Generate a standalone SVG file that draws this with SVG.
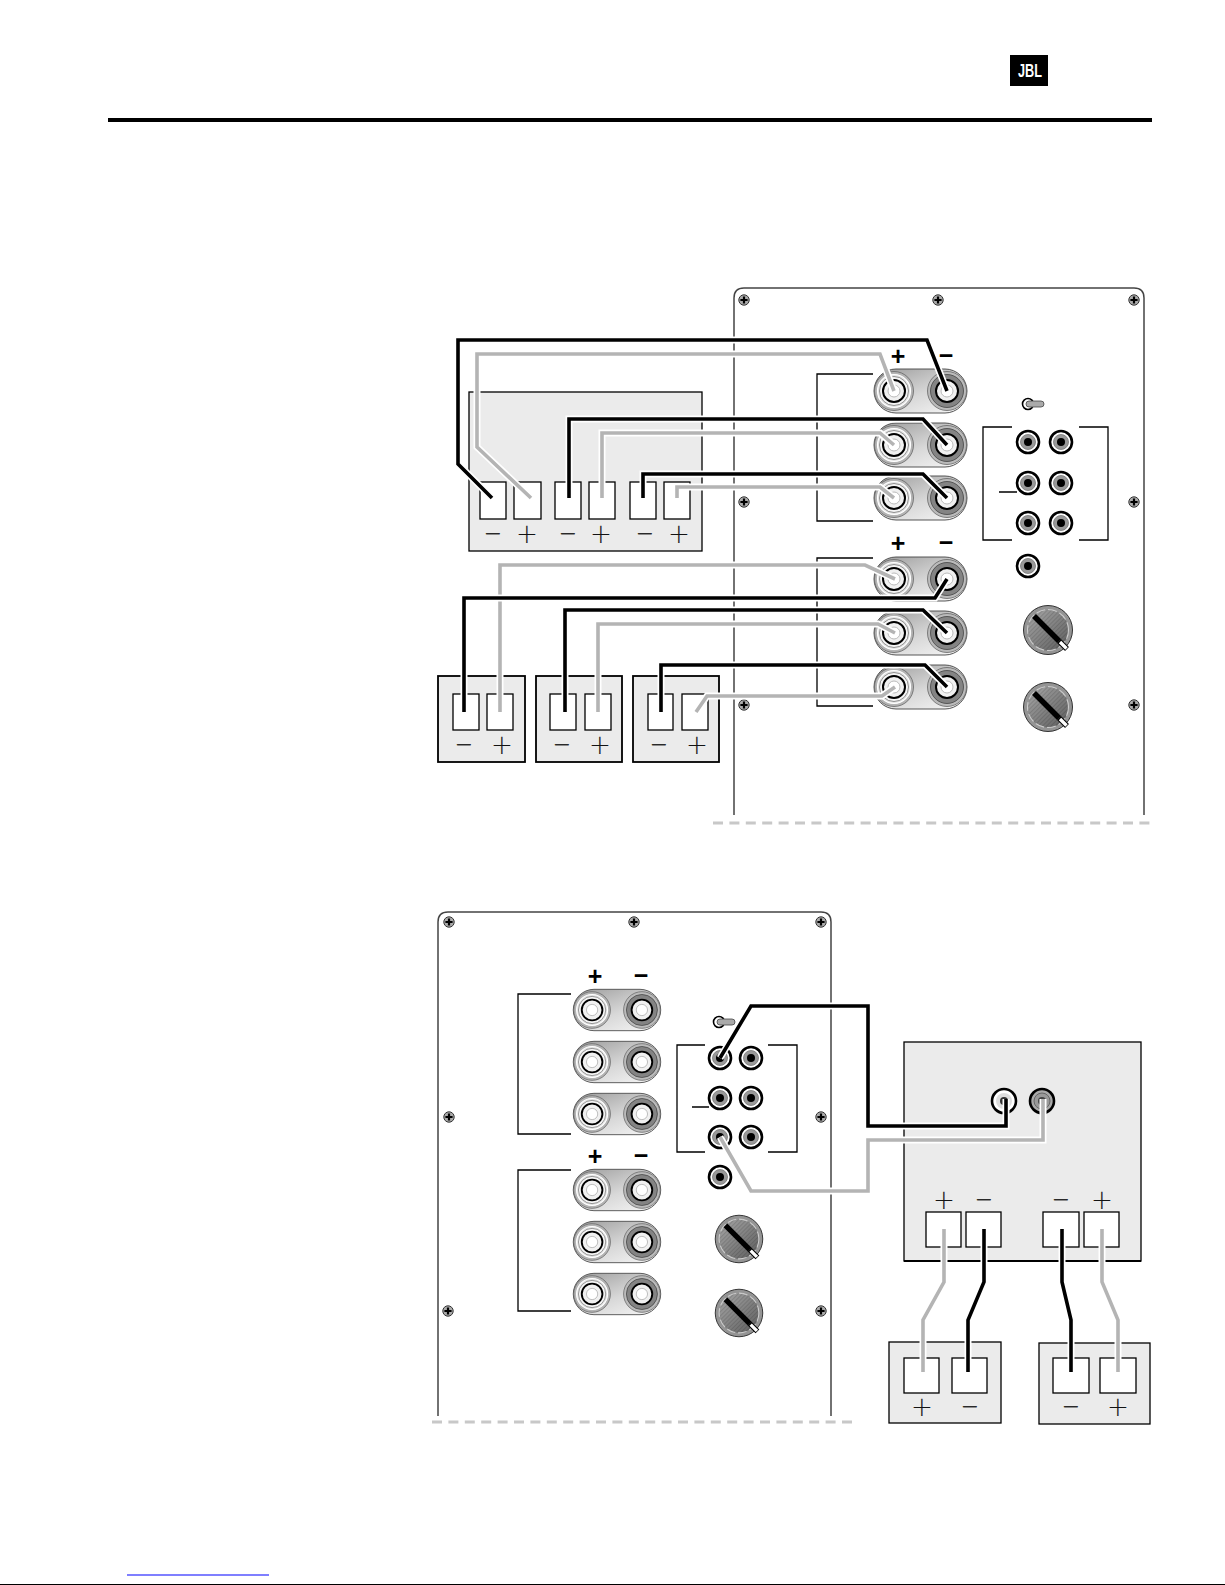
<svg xmlns="http://www.w3.org/2000/svg" xmlns:xlink="http://www.w3.org/1999/xlink" width="1225" height="1585" viewBox="0 0 1225 1585">
<style>
.box{fill:#ebebeb;stroke:#000;stroke-width:1.3}
.box2{fill:#ebebeb;stroke:#000;stroke-width:1.8}
.term{fill:#fff;stroke:#000;stroke-width:1.3}
.panel{fill:#fff;stroke:#444;stroke-width:1.5}
.bk{fill:none;stroke:#000;stroke-width:1.3}
.halo{fill:none;stroke:#fff;stroke-width:7}
.wk{fill:none;stroke:#000;stroke-width:3.6}
.wg{fill:none;stroke:#b4b4b4;stroke-width:3.6}
.dash{fill:none;stroke:#c8c8c8;stroke-width:3;stroke-dasharray:10 6.4}
.thin{font-family:"Roboto","Liberation Sans",sans-serif;font-weight:100;font-size:33px;text-anchor:middle;fill:#111;stroke:#111;stroke-width:.35;opacity:.99}
.bold{font-family:"Liberation Sans",sans-serif;font-weight:700;font-size:25px;text-anchor:middle;fill:#000}
</style>
<defs>
<linearGradient id="plateG" x1="0.1" y1="0" x2="0.9" y2="1"><stop offset="0" stop-color="#a0a0a0"/><stop offset=".55" stop-color="#d8d8d8"/><stop offset="1" stop-color="#f4f4f4"/></linearGradient>
<linearGradient id="knobG" x1="0" y1="0" x2="1" y2="1"><stop offset="0" stop-color="#a8a8a8"/><stop offset="1" stop-color="#5c5c5c"/></linearGradient>
<pattern id="hatch" width="3" height="3" patternUnits="userSpaceOnUse" patternTransform="rotate(45)"><rect width="1" height="3" fill="#000" fill-opacity=".12"/></pattern>
<g id="screw"><circle r="5.2" fill="#aaa" stroke="#333" stroke-width="1"/><path d="M-3.6 0H3.6M0-3.6V3.6" stroke="#000" stroke-width="2.2"/></g>
<g id="pair">
<rect x="-46.5" y="-22" width="93" height="44" rx="22" fill="url(#plateG)" stroke="#fff" stroke-width="3"/>
<rect x="-46.5" y="-22" width="93" height="44" rx="22" fill="url(#plateG)" stroke="#444" stroke-width=".9"/>
<g transform="translate(-26.5 0)"><circle r="19.5" fill="#b4b4b4" stroke="#666" stroke-width=".8"/><circle r="16.5" fill="#e4e4e4" stroke="#fff" stroke-width="1.2"/><circle r="14.5" fill="#f4f4f4" stroke="#666" stroke-width=".7"/><circle r="11" fill="#f0f0f0" stroke="#000" stroke-width="2"/><circle r="6" fill="#fff" stroke="#bbb"/></g>
<g transform="translate(26.5 0)"><circle r="19.5" fill="#bbb" stroke="#666" stroke-width=".8"/><circle r="16.5" fill="#848484" stroke="#444" stroke-width=".8"/><circle r="11" fill="#f0f0f0" stroke="#000" stroke-width="2"/><circle r="6" fill="#fff" stroke="#bbb"/></g>
</g>
<g id="rca"><circle r="11" fill="#fff" stroke="#000" stroke-width="2.6"/><circle r="7.5" fill="#999" stroke="#777" stroke-width=".8"/><circle r="4" fill="#000"/></g>
<g id="toggle"><circle cx="-3" r="5.5" fill="#fff" stroke="#000" stroke-width="1.6"/><rect x="-5" y="-3" width="18" height="6" rx="3" fill="#aaa" stroke="#444" stroke-width=".8"/></g>
<g id="knob">
<circle r="24.5" fill="#949494" stroke="#333" stroke-width="1"/>
<circle r="20.5" fill="url(#knobG)" stroke="#ccc" stroke-width="1.1" stroke-dasharray="9 3"/>
<circle r="20" fill="url(#hatch)"/>
<path d="M-14-14L11 11" stroke="#000" stroke-width="5.5"/>
<path d="M11 11L19 19" stroke="#000" stroke-width="5.5"/>
<path d="M12 12L18.5 18.5" stroke="#fff" stroke-width="3.4"/>
</g>
<path id="k1" d="M492 498L458 464V340H927L947 391"/>
<path id="g1" d="M531 498L477 447V354H880L894 391"/>
<path id="k2" d="M569 498V419H923L947 445"/>
<path id="g2" d="M602 498V433H880L894 445"/>
<path id="k3" d="M643 498V474H923L947 498"/>
<path id="g3" d="M677 498V487H880L894 498"/>
<path id="g4" d="M500 712V565H865L895 579"/>
<path id="k4" d="M464 712V598H935L947 579"/>
<path id="k5" d="M565 712V610H923L947 633"/>
<path id="g5" d="M598 712V624H878L895 633"/>
<path id="k6" d="M661 712V665H925L947 687"/>
<path id="g6" d="M696 712L707 696H882L895 687"/>
<path id="k7" d="M720 1058L751 1006H868V1126H1006V1099"/>
<path id="g7" d="M720 1137L751 1191H868V1140H1043V1099"/>
<path id="g8" d="M944 1229V1282L923 1320V1372"/>
<path id="k8" d="M984 1229V1282L968 1320V1372"/>
<path id="k9" d="M1062 1229V1282L1071 1320V1372"/>
<path id="g9" d="M1102 1229V1282L1118 1320V1372"/>
</defs>
<rect width="1225" height="1585" fill="#fff"/>
<g id="header">
<rect x="1010" y="55" width="38" height="31" fill="#000"/>
<text x="1030" y="77" font-family="'Liberation Sans',sans-serif" font-weight="700" font-size="18" text-anchor="middle" fill="#fff" textLength="24" lengthAdjust="spacingAndGlyphs">JBL</text>
<rect x="108" y="118" width="1044" height="4" fill="#000"/>
</g>
<g id="footer">
<rect x="127" y="1574.5" width="142" height="1" fill="#00f"/>
<rect x="0" y="1584" width="1225" height="1" fill="#000"/>
</g>
<g id="panel-top">
<path class="panel" d="M734 815V298Q734 288 744 288H1134Q1144 288 1144 298V815"/>
<path class="dash" d="M713 823H1152"/>
<use href="#screw" x="744" y="300"/><use href="#screw" x="938" y="300"/><use href="#screw" x="1134" y="300"/>
<use href="#screw" x="744" y="502"/><use href="#screw" x="1134" y="502"/>
<use href="#screw" x="744" y="705"/><use href="#screw" x="1134" y="705"/>
<path class="bk" d="M873 374H817V521H873M873 558H817V706H873"/>
<path class="bk" d="M1012 427H983V540H1012M1079 427H1108V540H1079M999 492H1017"/>
<text class="bold" x="898" y="365">+</text><text class="bold" x="946" y="364">−</text>
<text class="bold" x="898" y="552">+</text><text class="bold" x="946" y="551">−</text>
<use href="#pair" x="920.5" y="391"/><use href="#pair" x="920.5" y="445"/><use href="#pair" x="920.5" y="498"/>
<use href="#pair" x="920.5" y="579"/><use href="#pair" x="920.5" y="633"/><use href="#pair" x="920.5" y="687"/>
<use href="#toggle" x="1031" y="404"/>
<use href="#rca" x="1028" y="442"/><use href="#rca" x="1061" y="442"/>
<use href="#rca" x="1028" y="483"/><use href="#rca" x="1061" y="483"/>
<use href="#rca" x="1028" y="523"/><use href="#rca" x="1061" y="523"/>
<use href="#rca" x="1028" y="566"/>
<use href="#knob" x="1048" y="630"/><use href="#knob" x="1048" y="707"/>
</g>
<g id="amp-top">
<rect class="box" x="469" y="392" width="233" height="159"/>
<rect class="term" x="480" y="482" width="26" height="37"/><rect class="term" x="514" y="482" width="27" height="37"/>
<rect class="term" x="555" y="482" width="26" height="37"/><rect class="term" x="589" y="482" width="26" height="37"/>
<rect class="term" x="630" y="482" width="26" height="37"/><rect class="term" x="664" y="482" width="26" height="37"/>
<text class="thin" x="493" y="546">−</text><text class="thin" x="527" y="546">+</text>
<text class="thin" x="568" y="546">−</text><text class="thin" x="601" y="546">+</text>
<text class="thin" x="645" y="546">−</text><text class="thin" x="679" y="546">+</text>
</g>
<g id="speaker-1"><rect class="box2" x="438" y="676" width="87" height="86"/>
<rect class="term" x="453" y="694" width="26" height="36"/><rect class="term" x="487" y="694" width="26" height="36"/>
<text class="thin" x="464" y="757">−</text><text class="thin" x="502" y="757">+</text></g>
<g id="speaker-2"><rect class="box2" x="536" y="676" width="86" height="86"/>
<rect class="term" x="550" y="694" width="26" height="36"/><rect class="term" x="585" y="694" width="26" height="36"/>
<text class="thin" x="562" y="757">−</text><text class="thin" x="600" y="757">+</text></g>
<g id="speaker-3"><rect class="box2" x="633" y="676" width="86" height="86"/>
<rect class="term" x="648" y="694" width="25" height="36"/><rect class="term" x="682" y="694" width="26" height="36"/>
<text class="thin" x="659" y="757">−</text><text class="thin" x="697" y="757">+</text></g>
<g id="panel-bottom">
<path class="panel" d="M438 1416V922Q438 912 448 912H821Q831 912 831 922V1416"/>
<path class="dash" d="M432 1422H853"/>
<use href="#screw" x="449" y="922"/><use href="#screw" x="634" y="922"/><use href="#screw" x="821" y="922"/>
<use href="#screw" x="449" y="1117"/><use href="#screw" x="821" y="1117"/>
<use href="#screw" x="448" y="1311"/><use href="#screw" x="821" y="1311"/>
<path class="bk" d="M571 994H518V1134H571M571 1170H518V1311H571"/>
<path class="bk" d="M705 1045H677V1152H705M768 1045H797V1152H768M692 1107H709"/>
<text class="bold" x="595" y="985">+</text><text class="bold" x="641" y="984">−</text>
<text class="bold" x="595" y="1165">+</text><text class="bold" x="641" y="1164">−</text>
<use href="#pair" transform="translate(617 1010) scale(.94)"/><use href="#pair" transform="translate(617 1062) scale(.94)"/><use href="#pair" transform="translate(617 1114) scale(.94)"/>
<use href="#pair" transform="translate(617 1190) scale(.94)"/><use href="#pair" transform="translate(617 1242) scale(.94)"/><use href="#pair" transform="translate(617 1294) scale(.94)"/>
<use href="#toggle" x="722" y="1022"/>
<use href="#rca" x="720" y="1058"/><use href="#rca" x="751" y="1058"/>
<use href="#rca" x="720" y="1098"/><use href="#rca" x="751" y="1098"/>
<use href="#rca" x="720" y="1137"/><use href="#rca" x="751" y="1137"/>
<use href="#rca" x="720" y="1177"/>
<use href="#knob" transform="translate(739 1239) scale(.97)"/><use href="#knob" transform="translate(739 1313) scale(.97)"/>
</g>
<g id="amp-bottom">
<rect class="box" x="904" y="1042" width="237" height="219"/>
<path d="M904 1261H1141" stroke="#000" stroke-width="2" fill="none"/>
<g transform="translate(1004 1101)"><circle r="12" fill="#fff" stroke="#000" stroke-width="2.6"/><circle r="8" fill="#ddd"/><circle r="4" fill="#333"/></g>
<g transform="translate(1042 1101)"><circle r="12" fill="#aaa" stroke="#000" stroke-width="2.6"/><circle r="8" fill="#999" stroke="#666"/><circle r="4" fill="#444"/></g>
<rect class="term" x="926" y="1212" width="35" height="35"/><rect class="term" x="966" y="1212" width="35" height="35"/>
<rect class="term" x="1043" y="1212" width="36" height="35"/><rect class="term" x="1084" y="1212" width="35" height="35"/>
<text class="thin" x="944" y="1212">+</text><text class="thin" x="984" y="1212">−</text>
<text class="thin" x="1061" y="1212">−</text><text class="thin" x="1102" y="1212">+</text>
</g>
<g id="speaker-4"><rect class="box" x="889" y="1342" width="112" height="81"/>
<rect class="term" x="904" y="1358" width="35" height="35"/><rect class="term" x="952" y="1358" width="35" height="35"/>
<text class="thin" x="922" y="1419">+</text><text class="thin" x="970" y="1419">−</text></g>
<g id="speaker-5"><rect class="box" x="1039" y="1343" width="111" height="81"/>
<rect class="term" x="1053" y="1358" width="36" height="35"/><rect class="term" x="1100" y="1358" width="36" height="35"/>
<text class="thin" x="1071" y="1419">−</text><text class="thin" x="1118" y="1419">+</text></g>
<g id="connectors">
<use href="#k1" class="halo"/><use href="#k1" class="wk"/>
<use href="#g1" class="halo"/><use href="#g1" class="wg"/>
<use href="#k2" class="halo"/><use href="#k2" class="wk"/>
<use href="#g2" class="halo"/><use href="#g2" class="wg"/>
<use href="#k3" class="halo"/><use href="#k3" class="wk"/>
<use href="#g3" class="halo"/><use href="#g3" class="wg"/>
<use href="#g4" class="halo"/><use href="#g4" class="wg"/>
<use href="#k4" class="halo"/><use href="#k4" class="wk"/>
<use href="#k5" class="halo"/><use href="#k5" class="wk"/>
<use href="#g5" class="halo"/><use href="#g5" class="wg"/>
<use href="#k6" class="halo"/><use href="#k6" class="wk"/>
<use href="#g6" class="halo"/><use href="#g6" class="wg"/>
<use href="#k7" class="halo"/><use href="#k7" class="wk"/>
<use href="#g7" class="halo"/><use href="#g7" class="wg"/>
<use href="#g8" class="halo"/><use href="#g8" class="wg"/>
<use href="#k8" class="halo"/><use href="#k8" class="wk"/>
<use href="#k9" class="halo"/><use href="#k9" class="wk"/>
<use href="#g9" class="halo"/><use href="#g9" class="wg"/>
</g>
</svg>
